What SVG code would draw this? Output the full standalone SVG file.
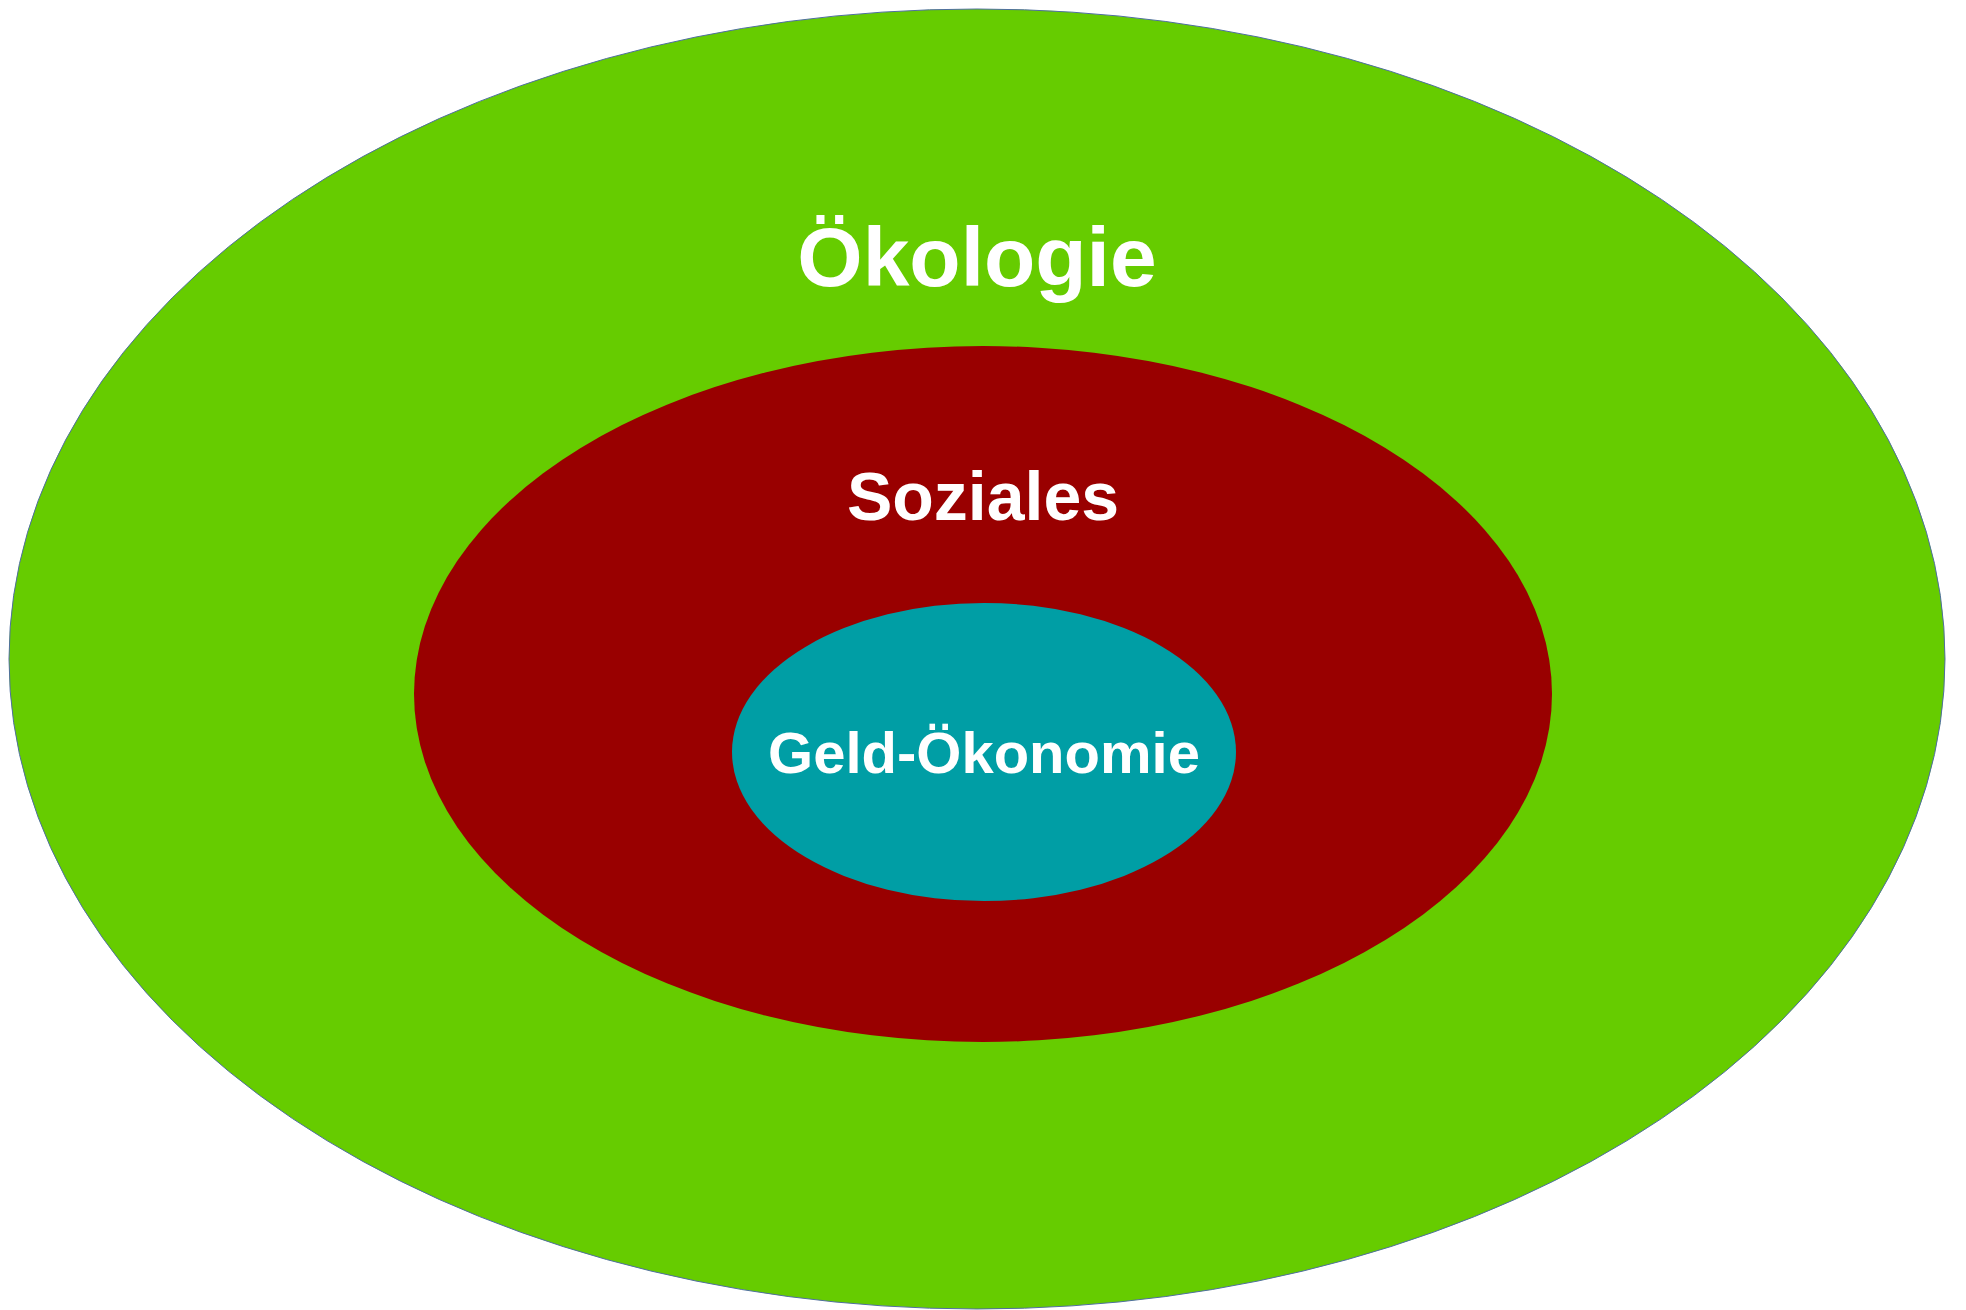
<svg xmlns="http://www.w3.org/2000/svg" width="1966" height="1310" viewBox="0 0 1966 1310">
<style>
.lbl{font-family:"Liberation Sans",Arial,sans-serif;font-weight:bold;fill:#ffffff;text-anchor:middle}
</style>
<rect width="1966" height="1310" fill="#ffffff"/>
<g id="oekologie">
<ellipse cx="977" cy="659" rx="968" ry="650" fill="#66cc00" stroke="#4f6f9f" stroke-width="1"/>
<text class="lbl" x="977" y="286" font-size="84">Ökologie</text>
</g>
<g id="soziales">
<ellipse cx="983" cy="694" rx="569" ry="348" fill="#990000"/>
<text class="lbl" x="983" y="520" font-size="68">Soziales</text>
</g>
<g id="geld-oekonomie">
<ellipse cx="984" cy="752" rx="252" ry="149" fill="#009ea5"/>
<text class="lbl" x="984" y="773" font-size="58">Geld-Ökonomie</text>
</g>
</svg>
